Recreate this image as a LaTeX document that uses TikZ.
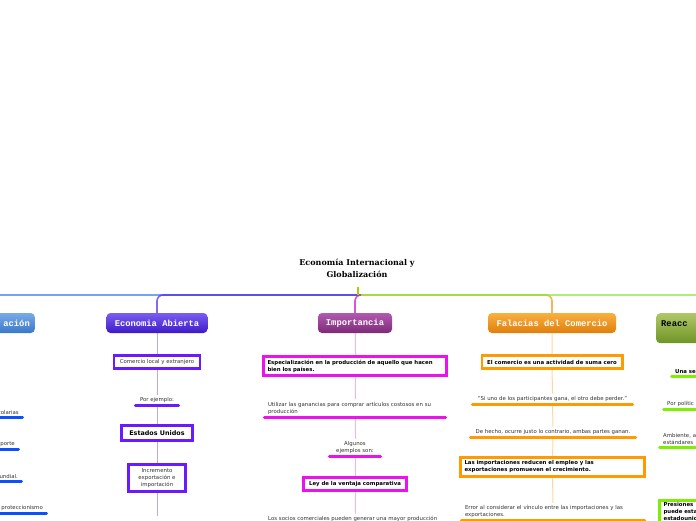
\documentclass[tikz,border=0pt]{standalone}
\usepackage{fontspec}
\setmainfont{DejaVu Sans}
\newfontfamily\mapmono{Liberation Mono}
\newfontfamily\mapserif{DejaVu Serif}
\usepackage{tikz}
\usetikzlibrary{positioning, backgrounds}
\definecolor{textgray}{RGB}{50, 50, 50}
\definecolor{acionTop}{RGB}{120, 170, 232}
\definecolor{acionBot}{RGB}{58, 120, 200}
\definecolor{acionLine}{RGB}{60, 125, 240}
\definecolor{acionBar}{RGB}{10, 80, 255}
\definecolor{abiertaTop}{RGB}{122, 94, 240}
\definecolor{abiertaBot}{RGB}{60, 26, 200}
\definecolor{abiertaLine}{RGB}{80, 40, 240}
\definecolor{abiertaBar}{RGB}{106, 26, 255}
\definecolor{abiertaLink}{RGB}{184, 168, 248}
\definecolor{impTop}{RGB}{176, 90, 176}
\definecolor{impBot}{RGB}{126, 42, 120}
\definecolor{impLine}{RGB}{192, 16, 192}
\definecolor{impBar}{RGB}{238, 16, 238}
\definecolor{impLink}{RGB}{246, 176, 246}
\definecolor{falTop}{RGB}{248, 176, 64}
\definecolor{falBot}{RGB}{224, 126, 12}
\definecolor{falLine}{RGB}{240, 150, 20}
\definecolor{falBar}{RGB}{255, 154, 0}
\definecolor{falLink}{RGB}{255, 214, 160}
\definecolor{reaccTop}{RGB}{176, 200, 104}
\definecolor{reaccBot}{RGB}{110, 148, 36}
\definecolor{reaccLine}{RGB}{140, 230, 60}
\definecolor{reaccBar}{RGB}{124, 240, 0}
\definecolor{stemgreen}{RGB}{168, 208, 0}
\newcommand{\subfont}{\fontsize{5.4}{7}\selectfont}
\newcommand{\topicfont}{\mapmono\bfseries\fontsize{8.8}{10}\selectfont}

\begin{document}
\begin{tikzpicture}[
    x=1pt, y=-1pt,
    titulo/.style={align=center, text=black, font=\mapserif\bfseries\fontsize{8}{12}\selectfont},
    topic/.style={rounded corners=4pt, minimum height=20pt, inner xsep=5pt, text=white, font=\topicfont, top color=#1Top, bottom color=#1Bot},
    subbox/.style={draw=#1, line width=2.6pt, fill=white, inner xsep=4pt, inner ysep=2pt, text=textgray, font=\subfont},
    boldsub/.style={text=black, font=\subfont\bfseries},
    subtext/.style={inner xsep=5pt, inner ysep=2.4pt, text=textgray, font=\subfont},
    uline/.style={subtext, anchor=south, append after command={\pgfextra{\let\ulnode\tikzlastnode} ([xshift=1.5pt]\ulnode.south west) edge[draw=#1, line width=3pt, line cap=round] ([xshift=-1.5pt]\ulnode.south east)}},
    branch/.style={draw=#1, line width=1.6pt, opacity=0.7, rounded corners=6pt},
    link/.style={draw=#1, line width=1pt}
]
\useasboundingbox (0,0) rectangle (696,520);
\clip (0,0) rectangle (696,520);

\node[titulo] (titulo) at (357,268) {Economía Internacional y\\Globalización};
\coordinate (stub) at (358,287);
\coordinate (hub) at (358,295);

% main topics
\node[topic=acion, minimum width=95pt, text width=85pt, align=right, anchor=east] (acion) at (35,323) {ación};
\node[topic=abierta, minimum width=101pt] (abierta) at (157,323) {Economia Abierta};
\node[topic=imp, minimum width=74pt] (importancia) at (355,323) {Importancia};
\node[topic=fal, minimum width=128pt] (falacias) at (552,323) {Falacias del Comercio};
\node[topic=reacc, text=black, anchor=north west, minimum height=30pt, text width=90pt, align=left] (reacc) at (656,313) {Reacc\\\mbox{}};

% economia abierta
\node[subbox=abiertaBar, minimum width=86pt, minimum height=13.4pt] (comercio) at (157,362) {Comercio local y extranjero};
\node[uline=abiertaBar, minimum width=46pt] (ejemplo) at (157,405) {Por ejemplo:};
\node[subbox=abiertaBar, boldsub, font=\fontsize{6.4}{7}\selectfont\bfseries, minimum width=71.4pt, minimum height=15.4pt] (unidos) at (157,433) {Estados Unidos};
\node[subbox=abiertaBar, minimum width=57.4pt, minimum height=27.4pt, align=center] (incremento) at (157,478) {Incremento\\exportación e\\importación};
\coordinate (abiertasig) at (157,516);

% importancia
\node[subbox=impBar, boldsub, text width=175pt, align=left, minimum height=19.4pt] (especial) at (355,366) {Especialización en la producción de aquello que hacen\\bien los países.};
\node[uline=impBar, text width=174pt, align=left] (utilizar) at (355,417) {Utilizar las ganancias para comprar artículos costosos en su\\producción};
\node[uline=impBar, minimum width=54pt, align=center] (algunos) at (355,456) {Algunos\\ejemplos son:};
\node[subbox=impBar, boldsub, minimum width=103.4pt, minimum height=13.4pt] (ventaja) at (355,484) {Ley de la ventaja comparativa};
\node[subtext, anchor=north west] (socios) at (263,514) {Los socios comerciales pueden generar una mayor producción};

% falacias del comercio
\node[subbox=falBar, boldsub, minimum width=140.4pt, minimum height=13.4pt] (sumacero) at (552,362) {El comercio es una actividad de suma cero};
\node[uline=falBar, minimum width=163pt] (participantes) at (552.5,404) {"Si uno de los participantes gana, el otro debe perder."};
\node[uline=falBar, minimum width=168pt] (ganan) at (553,437) {De hecho, ocurre justo lo contrario, ambas partes ganan.};
\node[subbox=falBar, boldsub, text width=176pt, align=left, minimum height=19.4pt] (empleo) at (552.5,467) {Las importaciones reducen el empleo y las\\exportaciones promueven el crecimiento.};
\node[uline=falBar, text width=176pt, align=left] (vinculo) at (553,520.5) {Error al considerar el vínculo entre las importaciones y las\\exportaciones.};

% reacciones
\node[uline=reaccBar, boldsub, anchor=south west, text width=60pt, align=left] (unase) at (670,376) {Una se};
\node[uline=reaccBar, anchor=south west, text width=60pt, align=left] (politica) at (662,409) {Por polític};
\node[uline=reaccBar, anchor=south west, text width=60pt, align=left] (ambiente) at (658,447) {Ambiente, a\\estándares};
\node[subbox=reaccBar, boldsub, anchor=north west, text width=60pt, align=left] (presiones) at (658.3,499.3) {Presiones\\puede esta\\estadounid};

% left branch
\node[uline=acionBar, anchor=south east, text width=60pt, align=right] (arancel) at (24,417) {colarias};
\node[uline=acionBar, anchor=south east, text width=60pt, align=right] (transporte) at (20,449) {porte};
\node[uline=acionBar, anchor=south east, text width=60pt, align=right] (mundial) at (23,481) {undial.};
\node[uline=acionBar, anchor=south east, text width=60pt, align=right] (protec) at (48,513) {proteccionismo};

\begin{scope}[on background layer]
\clip (0,0) rectangle (696,520);
\draw[branch=acionLine] (hub) -| (acion.north);
\draw[branch=abiertaLine] (hub) -| (abierta.north);
\draw[branch=falLine] (hub) -| (falacias.north);
\draw[branch=reaccLine] (hub) -| (reacc.north);
\draw[branch=impLine] (hub) -| (importancia.north);
\draw[line width=1.6pt, stemgreen] (stub) -- (hub);
\draw[link=abiertaLink] (abierta) -- (comercio) (comercio) -- (ejemplo) (ejemplo) -- (unidos) (unidos) -- (incremento) (incremento) -- (abiertasig);
\draw[link=impLink] (importancia) -- (especial) (especial) -- (utilizar) (utilizar) -- (algunos) (algunos) -- (ventaja) (ventaja) -- (socios.north -| ventaja);
\draw[link=falLink] (falacias) -- (sumacero) (sumacero) -- (participantes) (participantes) -- (ganan) (ganan) -- (empleo) (empleo) -- (vinculo);
\end{scope}
\end{tikzpicture}
\end{document}
